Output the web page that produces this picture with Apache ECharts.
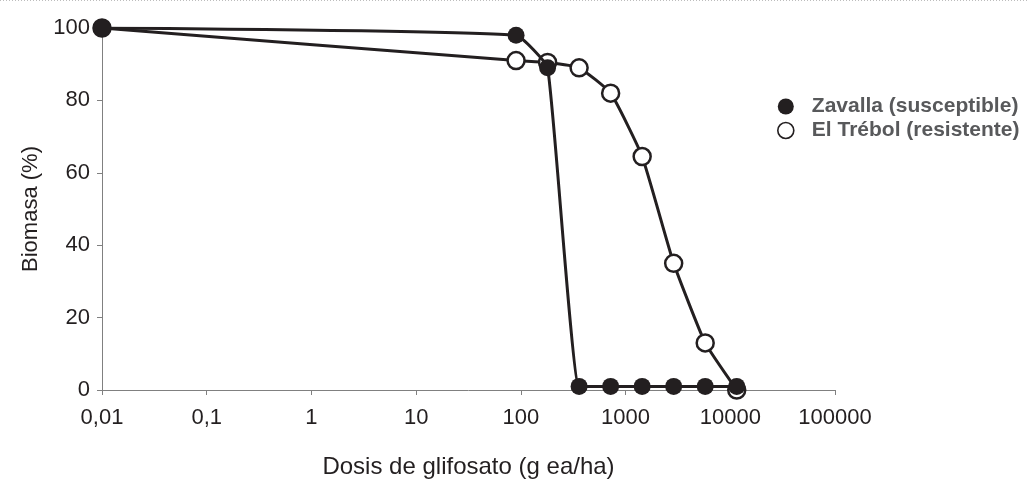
<!DOCTYPE html>
<html>
<head>
<meta charset="utf-8">
<script src="https://cdn.jsdelivr.net/npm/echarts@6/dist/echarts.min.js"></script>
<style>
  html, body { margin:0; padding:0; background:#fff; }
  #chart { width:1028px; height:480px; }
</style>
</head>
<body>
<div id="chart"></div>
<script>
// ====== 資料 ======
const doses        = [0.01, 90, 180, 360, 720, 1440, 2880, 5760, 11520];
const zavalla      = [100, 98, 89, 1, 1, 1, 1, 1, 1];
const elTrebol     = [100, 91, 90.5, 89, 82, 64.5, 35, 13, 0];
const xTickLabels  = ['0,01', '0,1', '1', '10', '100', '1000', '10000', '100000'];
const seriesNames  = ['Zavalla (susceptible)', 'El Trébol (resistente)'];

const INK = '#231f20';
const txt = { fontFamily:'Liberation Sans, Arial, sans-serif', fontSize:22, color:INK };

const chart = echarts.init(document.getElementById('chart'));

const pairs = (ys) => doses.map((d, i) => [d, ys[i]]);

chart.setOption({
  animation: false,
  grid: { left:102, right:193, top:28, bottom:90, containLabel:false, outerBoundsMode:'none' },
  graphic: [{
    type:'line', silent:true,
    shape:{ x1:0, y1:0.5, x2:1028, y2:0.5 },
    style:{ stroke:'#bdbdbd', lineWidth:1, lineDash:[1,2] }
  }],
  legend: {
    orient:'vertical', left:772, top:91, itemGap:3,
    itemWidth:16, itemHeight:16, icon:'circle',
    textStyle:{
      fontFamily:'Liberation Sans, Arial, sans-serif', fontWeight:'bold',
      fontSize:21, color:'#58595b', padding:[0,0,0,13]
    },
    data: [
      { name: seriesNames[0], itemStyle:{ color:INK, borderWidth:0 } },
      { name: seriesNames[1], itemStyle:{ color:'#fff', borderColor:INK, borderWidth:1.6 } }
    ]
  },
  xAxis: {
    type:'log', logBase:10, min:0.01, max:100000,
    name:'Dosis de glifosato (g ea/ha)', nameLocation:'middle', nameGap:65,
    nameTextStyle: { ...txt, fontSize:24 },
    axisLine:{ lineStyle:{ color:'#808080', width:1 } },
    axisTick:{ show:true, length:5, lineStyle:{ color:'#808080' } },
    splitLine:{ show:false },
    minorTick:{ show:false },
    axisLabel:{
      ...txt, margin:17,
      formatter: (v) => xTickLabels[Math.round(Math.log10(v)) + 2]
    }
  },
  yAxis: {
    type:'value', min:0, max:100, interval:20,
    name:'Biomasa (%)', nameLocation:'middle', nameGap:50, nameRotate:90,
    nameTextStyle: txt,
    axisLine:{ show:true, lineStyle:{ color:'#808080', width:1 } },
    axisTick:{ show:true, length:5, lineStyle:{ color:'#808080' } },
    splitLine:{ show:false },
    axisLabel:{ ...txt, margin:12 }
  },
  series: [
    {
      name: seriesNames[1], type:'line', data: pairs(elTrebol),
      smooth:0.14, symbol:'circle', symbolSize:17,
      lineStyle:{ color:INK, width:3 },
      itemStyle:{ color:'#fff', borderColor:INK, borderWidth:2.5 },
      z:2
    },
    {
      name: seriesNames[0], type:'line', data: pairs(zavalla),
      smooth:0.12, symbol:'circle', symbolSize:17,
      lineStyle:{ color:INK, width:3 },
      itemStyle:{ color:INK, borderColor:INK, borderWidth:0 },
      z:3
    }
  ]
});
</script>
</body>
</html>
